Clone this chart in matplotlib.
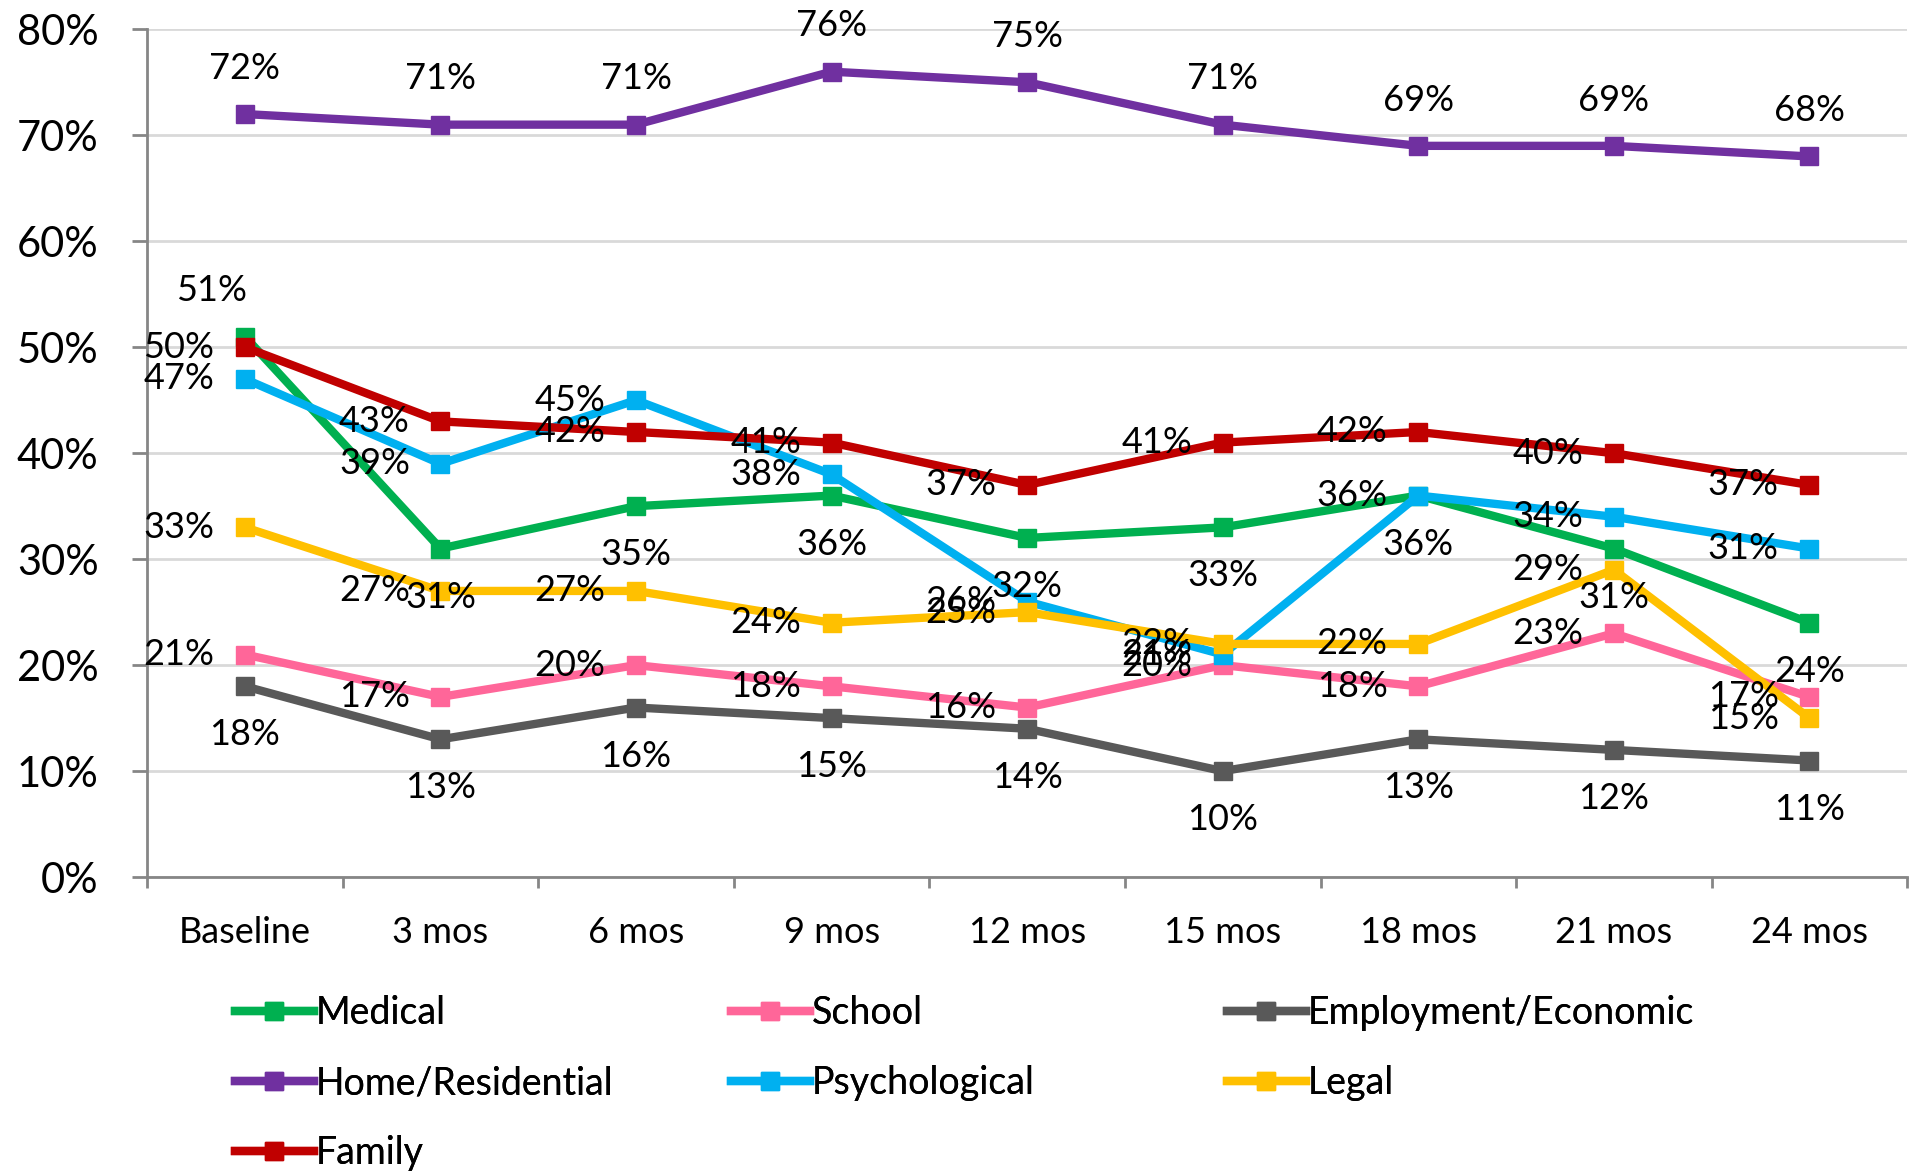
import matplotlib.pyplot as plt
from matplotlib.ticker import FuncFormatter

plt.rcParams['font.family'] = ['Lato', 'DejaVu Sans']

# Data
categories = ['Baseline', '3 mos', '6 mos', '9 mos', '12 mos', '15 mos', '18 mos', '21 mos', '24 mos']
medical = [51, 31, 35, 36, 32, 33, 36, 31, 24]
school = [21, 17, 20, 18, 16, 20, 18, 23, 17]
employment = [18, 13, 16, 15, 14, 10, 13, 12, 11]
home = [72, 71, 71, 76, 75, 71, 69, 69, 68]
psychological = [47, 39, 45, 38, 26, 21, 36, 34, 31]
legal = [33, 27, 27, 24, 25, 22, 22, 29, 15]
family = [50, 43, 42, 41, 37, 41, 42, 40, 37]

series = [
    ('Medical', medical, '#00B050', 'below'),
    ('School', school, '#FF6699', 'left'),
    ('Employment/Economic', employment, '#595959', 'below'),
    ('Home/Residential', home, '#7030A0', 'above'),
    ('Psychological', psychological, '#00B0F0', 'left'),
    ('Legal', legal, '#FFC000', 'left'),
    ('Family', family, '#C00000', 'left'),
]

offsets = {'left': (-22, 0, 'right'), 'above': (0, 33, 'center'), 'below': (0, -35, 'center')}

fig = plt.figure(figsize=(19.11, 11.71), dpi=100)
ax = fig.add_axes([0.077, 0.251, 0.921, 0.724])

x = list(range(len(categories)))
handles = {}
for name, vals, color, pos in series:
    h, = ax.plot(x, vals, color=color, lw=6, marker='s', markersize=13,
                 solid_joinstyle='miter', label=name, clip_on=False)
    handles[name] = h
    for i, v in enumerate(vals):
        dx, dy, ha = offsets[pos]
        if name == 'Medical' and i == 0:
            dx, dy, ha = -24, 33, 'center'
        ax.annotate(f'{v}%', (i, v), xytext=(dx, dy), textcoords='offset points',
                    ha=ha, va='center', fontsize=26, color='#000000')

ax.set_ylim(0, 80)
ax.set_xlim(-0.5, 8.5)
ax.set_yticks(range(0, 81, 10))
ax.yaxis.set_major_formatter(FuncFormatter(lambda v, p: f'{int(v)}%'))
ax.grid(axis='y', color='#d9d9d9', lw=2)
ax.set_axisbelow(True)

ax.set_xticks([i - 0.5 for i in range(len(categories) + 1)])
ax.set_xticklabels([])
ax.set_xticks(x, minor=True)
ax.set_xticklabels(categories, minor=True, fontsize=26)
ax.tick_params(axis='x', which='major', length=8, width=2, color='#868686', direction='out')
ax.tick_params(axis='x', which='minor', length=0, pad=28)
ax.tick_params(axis='y', length=11, width=2, color='#868686', pad=24, labelsize=30)

for s in ['top', 'right']:
    ax.spines[s].set_visible(False)
for s in ['left', 'bottom']:
    ax.spines[s].set_color('#868686')
    ax.spines[s].set_linewidth(2)

# Legend, three evenly spaced columns
columns = [['Medical', 'Home/Residential', 'Family'],
           ['School', 'Psychological'],
           ['Employment/Economic', 'Legal']]
col_x = [235 / 1911, 731 / 1911, 1227 / 1911]
for names, cx in zip(columns, col_x):
    leg = fig.legend([handles[n] for n in names], names, loc='upper left',
                     bbox_to_anchor=(cx, 0.150), frameon=False, fontsize=27,
                     handlelength=2.1, handletextpad=0.05, labelspacing=0.9,
                     borderpad=0, borderaxespad=0)
    fig.add_artist(leg)

fig.savefig('out.png', dpi=100)
